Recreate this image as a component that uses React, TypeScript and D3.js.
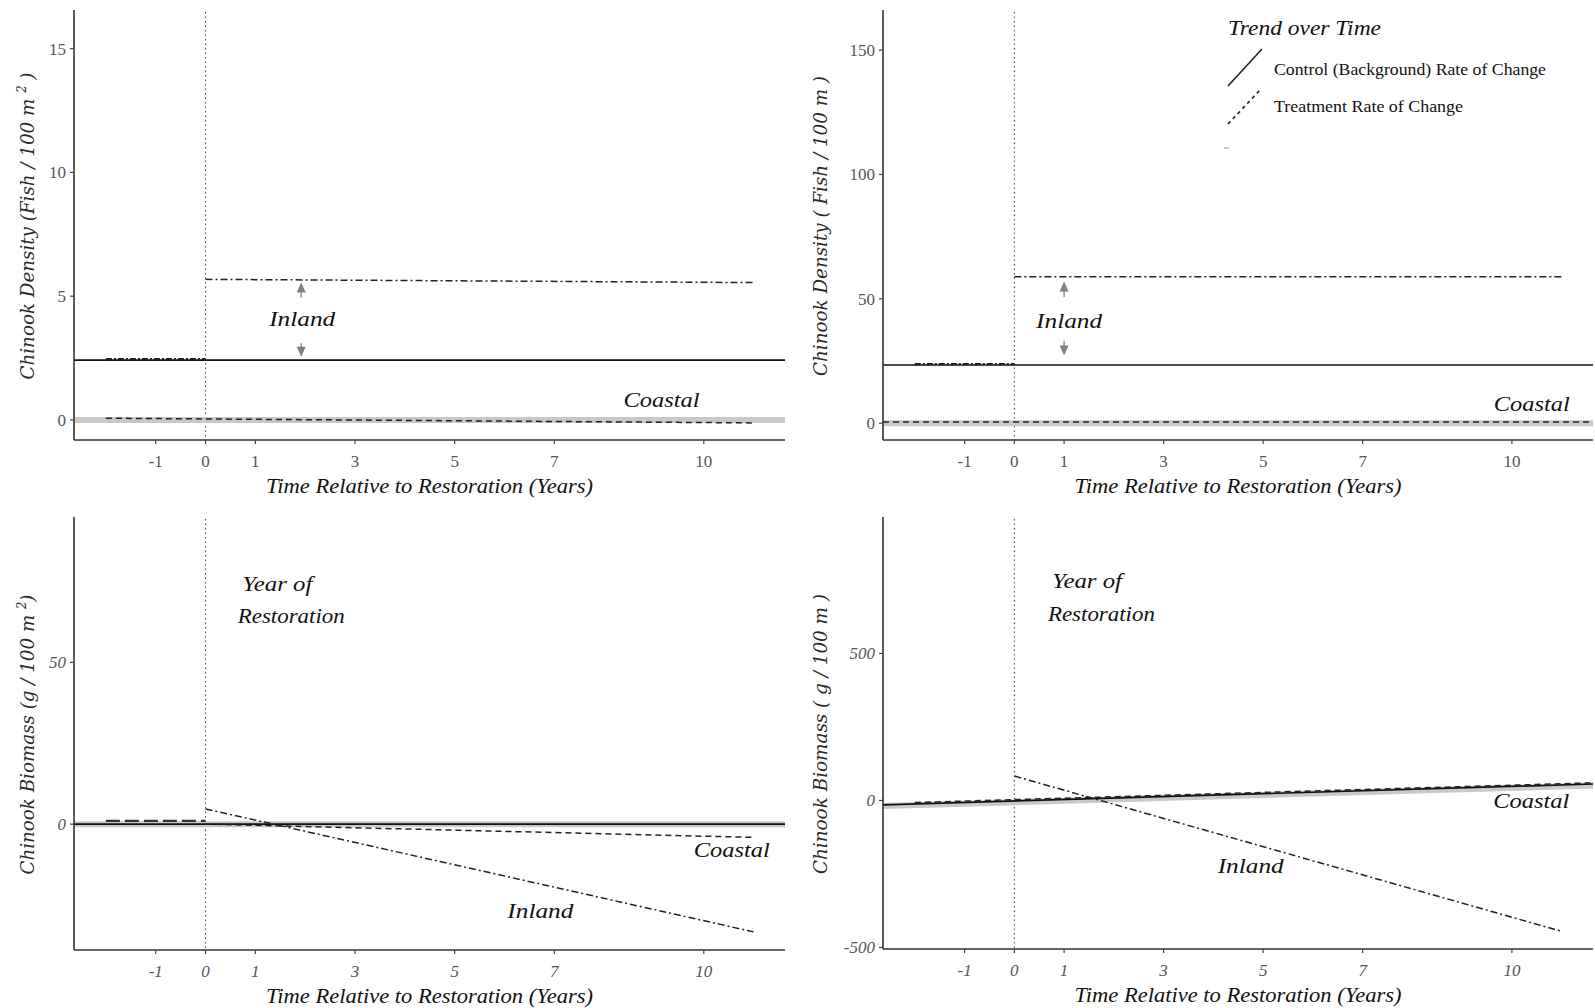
import * as d3 from "d3";

// shared x axis (years relative to restoration)
const xTicks = [-1, 0, 1, 3, 5, 7, 10];
const xDomain: [number, number] = [-2.64, 11.63];

// panel A: density per 100 m^2
const aYTicks = [0, 5, 10, 15];
const aCoastalControl = [[-2.64, 0], [11.63, 0]];
const aInlandControl = [[-2.64, 2.42], [11.63, 2.42]];
const aInlandPre = [[-2, 2.46], [0, 2.46]];
const aInlandPost = [[0, 5.68], [11, 5.55]];
const aCoastalTreat = [[-2, 0.07], [11, -0.12]];

// panel B: density per 100 m
const bYTicks = [0, 50, 100, 150];
const bCoastalControl = [[-2.64, 0], [11.63, 0]];
const bInlandControl = [[-2.64, 23.4], [11.63, 23.4]];
const bInlandPre = [[-2, 23.8], [0, 23.8]];
const bInlandPost = [[0, 58.9], [11, 58.9]];
const bCoastalTreat = [[-2.64, 0.5], [11.63, 0.5]];

// panel C: biomass per 100 m^2
const cYTicks = [0, 50];
const cCoastalControl = [[-2.64, 0], [11.63, 0]];
const cInlandControl = [[-2.64, 0], [11.63, 0]];
const cPre = [[-2, 1], [0, 1]];
const cInlandPost = [[0, 4.7], [11, -33.3]];
const cCoastalTreat = [[0, 0], [11, -4.1]];

// panel D: biomass per 100 m
const dYTicks = [-500, 0, 500];
const dCoastalControl = [[-2.64, -19], [11.63, 51]];
const dInlandControl = [[-2.64, -15], [11.63, 56]];
const dCoastalTreat = [[-2, -7], [11.63, 60]];
const dInlandPost = [[0, 83], [11, -445]];

const SERIF = "'Liberation Serif', 'Times New Roman', serif";

const styles: Record<string, any> = {
  band: { stroke: "#c9c9c9", width: 6, dash: null },
  control: { stroke: "#111", width: 1.7, dash: null },
  dotdash: { stroke: "#222", width: 1.5, dash: "7 3 2 3" },
  pre: { stroke: "#222", width: 2.2, dash: "6 2 2 2" },
  dashed: { stroke: "#222", width: 1.5, dash: "6 4" },
  longdash: { stroke: "#333", width: 2.4, dash: "14 5" },
};

const panels = [
  {
    rect: { x0: 74, x1: 785, y0: 12, y1: 440 },
    yDomain: [-0.81, 16.48],
    yTicks: aYTicks,
    italicTicks: false,
    yTitle: ["Chinook Density (Fish / 100 m ", "2", " )"],
    yTitleLen: 307,
    yTitleOff: 47,
    series: [
      { d: aCoastalControl, s: "band" },
      { d: aInlandControl, s: "control" },
      { d: aInlandPre, s: "pre" },
      { d: aInlandPost, s: "dotdash" },
      { d: aCoastalTreat, s: "dashed" },
    ],
    arrows: [[1.92, 4.95, 5.55], [1.92, 3.1, 2.55]],
    notes: [
      { t: "Inland", x: 1.94, y: 4.1, len: 66 },
      { t: "Coastal", x: 9.15, y: 0.85, len: 76 },
    ],
    legend: false,
  },
  {
    rect: { x0: 883, x1: 1593, y0: 12, y1: 440 },
    yDomain: [-6.75, 165.3],
    yTicks: bYTicks,
    italicTicks: false,
    yTitle: ["Chinook Density ( Fish / 100 m )"],
    yTitleLen: 300,
    yTitleOff: 63,
    series: [
      { d: bCoastalControl, s: "band" },
      { d: bInlandControl, s: "control" },
      { d: bInlandPre, s: "pre" },
      { d: bInlandPost, s: "dotdash" },
      { d: bCoastalTreat, s: "dashed" },
    ],
    arrows: [[1, 50.7, 57], [1, 33.1, 27.2]],
    notes: [
      { t: "Inland", x: 1.1, y: 41.5, len: 66 },
      { t: "Coastal", x: 10.4, y: 8.1, len: 76 },
    ],
    legend: true,
  },
  {
    rect: { x0: 74, x1: 785, y0: 519, y1: 950 },
    yDomain: [-38.9, 94.3],
    yTicks: cYTicks,
    italicTicks: true,
    yTitle: ["Chinook Biomass (g / 100 m ", "2", ")"],
    yTitleLen: 280,
    yTitleOff: 47,
    series: [
      { d: cCoastalControl, s: "band" },
      { d: cInlandControl, s: "control" },
      { d: cPre, s: "longdash" },
      { d: cInlandPost, s: "dotdash" },
      { d: cCoastalTreat, s: "dashed" },
    ],
    arrows: [],
    notes: [
      { t: "Year of", x: 1.44, y: 74.5, len: 70 },
      { t: "Restoration", x: 1.72, y: 64.6, len: 107 },
      { t: "Coastal", x: 10.56, y: -7.7, len: 76 },
      { t: "Inland", x: 6.72, y: -26.6, len: 66 },
    ],
    legend: false,
  },
  {
    rect: { x0: 883, x1: 1593, y0: 519, y1: 949 },
    yDomain: [-505, 957],
    yTicks: dYTicks,
    italicTicks: true,
    yTitle: ["Chinook Biomass ( g / 100 m )"],
    yTitleLen: 280,
    yTitleOff: 63,
    series: [
      { d: dCoastalControl, s: "band" },
      { d: dInlandControl, s: "control" },
      { d: dCoastalTreat, s: "dashed" },
      { d: dInlandPost, s: "dotdash" },
    ],
    arrows: [],
    notes: [
      { t: "Year of", x: 1.46, y: 747, len: 70 },
      { t: "Restoration", x: 1.75, y: 638, len: 107 },
      { t: "Coastal", x: 10.39, y: -0.6, len: 76 },
      { t: "Inland", x: 4.75, y: -222, len: 66 },
    ],
    legend: false,
  },
];

function Legend() {
  return (
    <g fontFamily={SERIF}>
      <text x={1228} y={35} fontSize={21} fontStyle="italic" fill="#111" textLength={153} lengthAdjust="spacingAndGlyphs">
        Trend over Time
      </text>
      <line x1={1228} y1={86} x2={1262} y2={49} stroke="#222" strokeWidth={1.6} />
      <line x1={1228} y1={124} x2={1261} y2={89} stroke="#333" strokeWidth={1.8} strokeDasharray="3.5 3.5" />
      <line x1={1224} y1={148} x2={1229} y2={148} stroke="#bbb" strokeWidth={1.5} />
      <text x={1274} y={75} fontSize={17} fill="#111" textLength={272} lengthAdjust="spacingAndGlyphs">
        Control (Background) Rate of Change
      </text>
      <text x={1274} y={112} fontSize={17} fill="#111" textLength={189} lengthAdjust="spacingAndGlyphs">
        Treatment Rate of Change
      </text>
    </g>
  );
}

function Panel({ p }: { p: any }) {
  const { x0, x1, y0, y1 } = p.rect;
  const x = d3.scaleLinear().domain(xDomain).range([x0, x1]);
  const y = d3.scaleLinear().domain(p.yDomain).range([y1, y0]);
  const line = d3.line<number[]>().x((d) => x(d[0])).y((d) => y(d[1]));
  const tickStyle = p.italicTicks ? "italic" : "normal";
  const midY = (y0 + y1) / 2;

  return (
    <g>
      {/* vertical restoration marker */}
      <line x1={x(0)} x2={x(0)} y1={y0} y2={y1} stroke="#444" strokeWidth={1} strokeDasharray="1.5 3" />

      {p.series.map((s: any, i: number) => {
        const st = styles[s.s];
        return (
          <path
            key={i}
            d={line(s.d) || ""}
            fill="none"
            stroke={st.stroke}
            strokeWidth={st.width}
            strokeDasharray={st.dash || undefined}
          />
        );
      })}

      {p.arrows.map((a: number[], i: number) => {
        const ax = x(a[0]);
        const ya = y(a[1]);
        const yb = y(a[2]);
        const dir = yb < ya ? -1 : 1;
        return (
          <g key={i}>
            <line x1={ax} x2={ax} y1={ya} y2={yb - dir * 8} stroke="#808080" strokeWidth={1.3} />
            <path
              d={`M${ax},${yb} L${ax - 4.5},${yb - dir * 10} L${ax + 4.5},${yb - dir * 10} Z`}
              fill="#808080"
            />
          </g>
        );
      })}

      {p.notes.map((n: any, i: number) => (
        <text
          key={i}
          x={x(n.x)}
          y={y(n.y)}
          dy="0.35em"
          textAnchor="middle"
          fontFamily={SERIF}
          fontStyle="italic"
          fontSize={22}
          fill="#111"
          textLength={n.len}
          lengthAdjust="spacingAndGlyphs"
        >
          {n.t}
        </text>
      ))}

      {/* axes */}
      <line x1={x0} x2={x0} y1={y0 - 2} y2={y1} stroke="#333" strokeWidth={1.6} />
      <line x1={x0} x2={x1} y1={y1} y2={y1} stroke="#333" strokeWidth={1.6} />

      {xTicks.map((t) => (
        <g key={t}>
          <line x1={x(t)} x2={x(t)} y1={y1} y2={y1 + 4} stroke="#444" strokeWidth={1.2} />
          <text
            x={x(t)}
            y={y1 + 21}
            dy="0.35em"
            textAnchor="middle"
            fontFamily={SERIF}
            fontStyle={tickStyle}
            fontSize={17}
            fill="#555"
          >
            {t}
          </text>
        </g>
      ))}
      {p.yTicks.map((t: number) => (
        <g key={t}>
          <line x1={x0 - 4} x2={x0} y1={y(t)} y2={y(t)} stroke="#444" strokeWidth={1.2} />
          <text
            x={x0 - 8}
            y={y(t)}
            dy="0.35em"
            textAnchor="end"
            fontFamily={SERIF}
            fontStyle={tickStyle}
            fontSize={17}
            fill="#555"
          >
            {t}
          </text>
        </g>
      ))}

      <text
        x={(x0 + x1) / 2}
        y={y1 + 46}
        dy="0.35em"
        textAnchor="middle"
        fontFamily={SERIF}
        fontStyle="italic"
        fontSize={21}
        fill="#111"
        textLength={327}
        lengthAdjust="spacingAndGlyphs"
      >
        Time Relative to Restoration (Years)
      </text>

      <text
        transform={`translate(${x0 - p.yTitleOff},${midY}) rotate(-90)`}
        dy="0.35em"
        textAnchor="middle"
        fontFamily="'DejaVu Serif', serif"
        fontStyle="italic"
        fontSize={19}
        fill="#2a2a2a"
        textLength={p.yTitleLen}
        lengthAdjust="spacingAndGlyphs"
      >
        {p.yTitle.length > 1 ? (
          <>
            <tspan>{p.yTitle[0]}</tspan>
            <tspan fontSize={12} dy="-8">{p.yTitle[1]}</tspan>
            <tspan dy="8">{p.yTitle[2]}</tspan>
          </>
        ) : (
          p.yTitle[0]
        )}
      </text>

      {p.legend && <Legend />}
    </g>
  );
}

export default function App() {
  return (
    <svg
      width={1595}
      height={1008}
      style={{ position: "absolute", left: 0, top: 0, background: "#fff" }}
    >
      <rect width={1595} height={1008} fill="#fff" />
      {panels.map((p, i) => (
        <Panel key={i} p={p} />
      ))}
    </svg>
  );
}
